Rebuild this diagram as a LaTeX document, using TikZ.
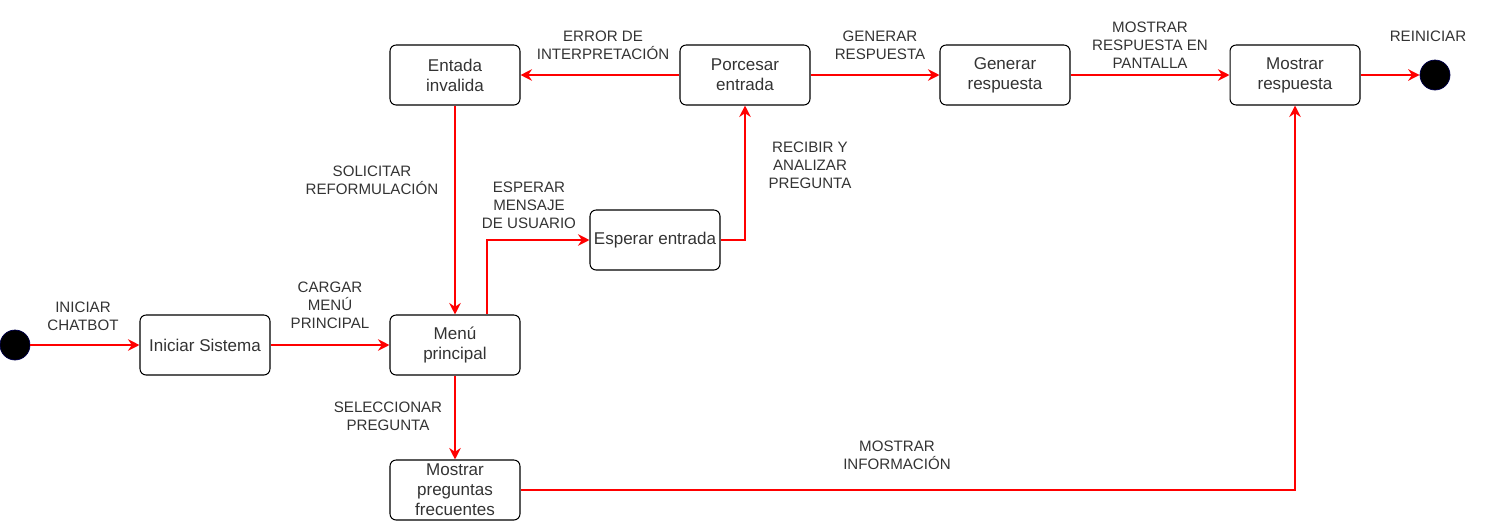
\documentclass[tikz,border=0pt]{standalone}
\usepackage{fontspec}
\setmainfont{Liberation Sans}
\usetikzlibrary{arrows.meta}

\begin{document}
\begin{tikzpicture}[x=0.02cm,y=-0.02cm,
		estado/.style={draw, rounded corners=3.5pt, line width=0.6pt, inner xsep=2pt, inner ysep=1pt, minimum width=2.6cm, minimum height=1.2cm, align=center, text=black!80, font=\fontsize{9.7}{11.4}\selectfont},
		etiqueta/.style={align=center, inner sep=0pt, text=black!80, font=\fontsize{8.6}{10.2}\selectfont},
		punto/.style={circle, fill=black, draw=black!70!blue, minimum size=0.6cm, inner sep=0pt},
		flecha/.style={draw=red, line width=1.1pt, -{Stealth[length=6.5pt,width=6.5pt]}}]

		\useasboundingbox (0,0) rectangle (1501,521);

		% estados
		\node[punto] (inicio) at (15,345) {};
		\node[punto] (fin) at (1435,75) {};
		\node[estado] (sistema) at (205,345) {Iniciar Sistema};
		\node[estado] (menu) at (455,345) {Menú\\principal};
		\node[estado] (preguntas) at (455,490) {Mostrar\\preguntas\\frecuentes};
		\node[estado] (invalida) at (455,75) {Entada\\invalida};
		\node[estado] (procesar) at (745,75) {Porcesar\\entrada};
		\node[estado] (generar) at (1005,75) {Generar\\respuesta};
		\node[estado] (mostrar) at (1295,75) {Mostrar\\respuesta};
		\node[estado] (esperar) at (655,240) {Esperar entrada};

		% transiciones
		\draw[flecha] (inicio) -- (sistema);
		\draw[flecha] (sistema) -- (menu);
		\draw[flecha] (invalida) -- (menu);
		\draw[flecha] ([xshift=0.64cm]menu.north) |- (esperar.west);
		\draw[flecha] (esperar.east) -| (procesar.south);
		\draw[flecha] (procesar) -- (invalida);
		\draw[flecha] (procesar) -- (generar);
		\draw[flecha] (generar) -- (mostrar);
		\draw[flecha] (mostrar) -- (fin);
		\draw[flecha] (menu) -- (preguntas);
		\draw[flecha] (preguntas.east) -| (mostrar.south);

		% etiquetas
		\node[etiqueta] (l-chatbot) at (83,316) {INICIAR\\CHATBOT};
		\node[etiqueta] (l-cargar) at (330,305) {CARGAR\\MENÚ\\PRINCIPAL};
		\node[etiqueta] (l-solicitar) at (372,180) {SOLICITAR\\REFORMULACIÓN};
		\node[etiqueta] (l-esperar) at (529,205) {ESPERAR\\MENSAJE\\DE USUARIO};
		\node[etiqueta] (l-recibir) at (810,165) {RECIBIR Y\\ANALIZAR\\PREGUNTA};
		\node[etiqueta] (l-error) at (603,45) {ERROR DE\\INTERPRETACIÓN};
		\node[etiqueta] (l-generar) at (880,45) {GENERAR\\RESPUESTA};
		\node[etiqueta] (l-pantalla) at (1150,45) {MOSTRAR\\RESPUESTA EN\\PANTALLA};
		\node[etiqueta] (l-reiniciar) at (1428,36) {REINICIAR};
		\node[etiqueta] (l-seleccionar) at (388,416) {SELECCIONAR\\PREGUNTA};
		\node[etiqueta] (l-informacion) at (897,455) {MOSTRAR\\INFORMACIÓN};
	\end{tikzpicture}
\end{document}
